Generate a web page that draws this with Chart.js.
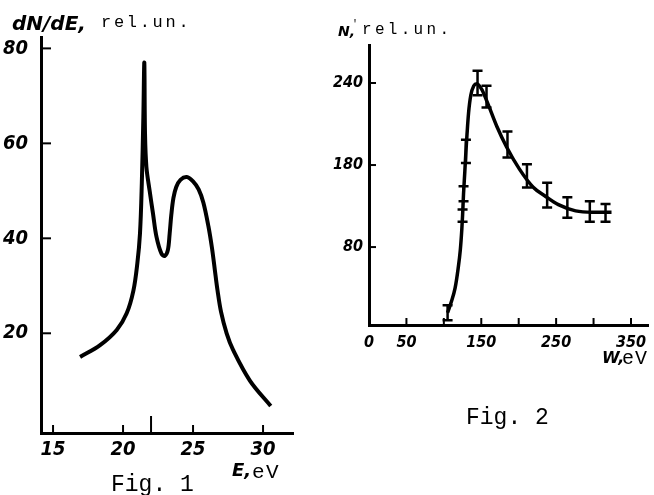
<!DOCTYPE html>
<html>
<head>
<meta charset="utf-8">
<script src="https://cdn.jsdelivr.net/npm/chart.js@4.4.1/dist/chart.umd.min.js"></script>
<style>
  body { margin: 0; background: #fff; width: 654px; height: 495px; position: relative; overflow: hidden; }
  canvas { position: absolute; top: 0; }
  .t { position: absolute; white-space: nowrap; color: #000; line-height: 1; }
  .bi { font-family: 'DejaVu Sans', sans-serif; font-weight: bold; font-style: italic; }
  .mono { font-family: 'Liberation Mono', 'DejaVu Sans Mono', monospace; }
</style>
</head>
<body>
<canvas id="fig1" width="330" height="495" style="left:0"></canvas>
<canvas id="fig2" width="324" height="495" style="left:330px"></canvas>

<div class="t bi" style="left:12px;top:13px;font-size:20px">dN/dE,</div>
<div class="t mono" style="left:101px;top:14px;font-size:17px;letter-spacing:2.7px">rel.un.</div>
<div class="t bi" style="left:232px;top:461px;font-size:18px">E,</div>
<div class="t mono" style="left:252px;top:462px;font-size:21px;letter-spacing:1.5px">eV</div>
<div class="t mono" style="left:111px;top:474px;font-size:23px">Fig. 1</div>

<div class="t bi" style="left:338px;top:24px;font-size:14px">N,</div>
<div class="t mono" style="left:352px;top:20px;font-size:10px">'</div>
<div class="t mono" style="left:362px;top:22px;font-size:16px;letter-spacing:3.3px">rel.un.</div>
<div class="t bi" style="left:602px;top:350px;font-size:16px">W,</div>
<div class="t mono" style="left:622px;top:349px;font-size:20px;letter-spacing:1px">eV</div>
<div class="t mono" style="left:466px;top:407px;font-size:23px">Fig. 2</div>

<script>
// Fig. 1 : dN/dE spectrum
var energy = [16.93, 18.36, 19.55, 20.26, 20.74, 21.02, 21.21, 21.34, 21.45, 21.52, 21.57, 21.67, 21.9, 22.14, 22.39, 22.74, 22.98, 23.2, 23.33, 23.45, 23.6, 23.8, 24.1, 24.55, 25.0, 25.4, 25.74, 26.1, 26.35, 26.55, 26.75, 27.0, 27.4, 27.86, 29.07, 30.55];
var dNdE = [15, 17.5, 20.7, 24.2, 29, 34.7, 41, 51.5, 65.5, 77, 62, 55, 50, 45.2, 40.3, 36.8, 36.3, 37.5, 41, 45, 48.5, 50.8, 52.3, 52.9, 52, 50.3, 47.5, 42.5, 38, 33.5, 29, 24.5, 20, 16.5, 10, 4.7];
var xTicks1 = [15, 20, 22, 25, 30];
var xLabels1 = ['15', '20', '', '25', '30'];
var yTicks1 = [20, 40, 60, 80];
var yLabels1 = ['20', '40', '60', '80'];

// Fig. 2 : N versus W, with error bars
var wCurve = [105, 110, 115, 119, 122, 124, 125, 126.3, 128, 129.5, 131, 133, 136, 140, 144, 151, 158, 171, 184, 201, 219, 236, 253, 276, 298, 324];
var nCurve = [72, 80, 90, 104, 118, 133, 143, 159, 175, 190, 203, 218, 231, 238, 239.5, 235, 226, 208, 193, 177, 164, 157, 151, 146.5, 145.5, 145.5];
var wPoints = [105, 125, 126.3, 129.5, 145, 157, 185, 211, 238, 265, 295, 316];
var nPoints = [72, 143, 159, 190, 240, 230, 195, 172, 158, 149, 146, 145];
var nErr = [5.5, 4.5, 5.5, 8.5, 9, 8, 9.5, 8.5, 9, 7.5, 7.5, 6.5];
var xTicks2 = [0, 50, 100, 150, 200, 250, 300, 350];
var xLabels2 = ['0', '50', '', '150', '', '250', '', '350'];
var yTicks2 = [120, 180, 240];
var yLabels2 = ['80', '180', '240'];

function zip(xs, ys) {
  var out = [];
  for (var i = 0; i < xs.length; i++) out.push({ x: xs[i], y: ys[i] });
  return out;
}

function setTicks(list) {
  return function (scale) {
    scale.ticks = list.map(function (v) { return { value: v }; });
  };
}

// short tick marks drawn inside the plot, from the scales' own ticks
var inwardTicks = {
  id: 'inwardTicks',
  afterDatasetsDraw: function (chart, args, opts) {
    var ctx = chart.ctx, area = chart.chartArea;
    var xs = chart.scales.x, ys = chart.scales.y;
    ctx.save();
    ctx.strokeStyle = '#000';
    ctx.lineWidth = opts.width;
    xs.ticks.forEach(function (t) {
      var px = xs.getPixelForValue(t.value);
      var len = (opts.longX || []).indexOf(t.value) >= 0 ? opts.longLen : opts.lenX;
      ctx.beginPath();
      ctx.moveTo(px, area.bottom);
      ctx.lineTo(px, area.bottom - len);
      ctx.stroke();
    });
    ys.ticks.forEach(function (t) {
      var py = ys.getPixelForValue(t.value);
      ctx.beginPath();
      ctx.moveTo(area.left, py);
      ctx.lineTo(area.left + opts.lenY, py);
      ctx.stroke();
    });
    ctx.restore();
  }
};

var errorBars = {
  id: 'errorBars',
  afterDatasetsDraw: function (chart, args, opts) {
    if (!opts.on) return;
    var ctx = chart.ctx;
    var xs = chart.scales.x, ys = chart.scales.y;
    ctx.save();
    ctx.strokeStyle = '#000';
    ctx.lineWidth = 2.5;
    for (var i = 0; i < wPoints.length; i++) {
      var px = xs.getPixelForValue(wPoints[i]);
      var top = ys.getPixelForValue(nPoints[i] + nErr[i]);
      var bot = ys.getPixelForValue(nPoints[i] - nErr[i]);
      ctx.beginPath();
      ctx.moveTo(px, top); ctx.lineTo(px, bot);
      ctx.moveTo(px - 5, top); ctx.lineTo(px + 5, top);
      ctx.moveTo(px - 5, bot); ctx.lineTo(px + 5, bot);
      ctx.stroke();
    }
    ctx.restore();
  }
};

var tickFamily = "'DejaVu Sans Condensed', 'Liberation Sans Narrow', 'DejaVu Sans', sans-serif";

function axis(min, max, ticks, labels, size, pad, fitFn) {
  return {
    type: 'linear',
    min: min,
    max: max,
    afterBuildTicks: setTicks(ticks),
    afterFit: fitFn,
    grid: { display: false, drawTicks: false },
    border: { display: true, width: 3, color: '#000' },
    ticks: {
      padding: pad,
      color: '#000',
      autoSkip: false,
      maxRotation: 0,
      font: { family: tickFamily, size: size, style: 'italic', weight: 'bold' },
      callback: function (v, i) { return labels[i]; }
    }
  };
}

new Chart(document.getElementById('fig1'), {
  type: 'line',
  data: {
    datasets: [{
      data: zip(energy, dNdE),
      borderColor: '#000',
      borderWidth: 4,
      pointRadius: 0,
      tension: 0.35,
      fill: false
    }]
  },
  plugins: [inwardTicks, errorBars],
  options: {
    responsive: false,
    animation: false,
    layout: { padding: { top: 37, right: 37, left: 0, bottom: 0 } },
    plugins: {
      legend: { display: false },
      tooltip: { enabled: false },
      inwardTicks: { width: 2, lenX: 8, lenY: 10, longX: [22], longLen: 17 },
      errorBars: { on: false }
    },
    scales: {
      x: axis(14.14, 32.14, xTicks1, xLabels1, 20, 5, function (s) { s.height = 62; }),
      y: axis(-1, 82.4, yTicks1, yLabels1, 20, 13, function (s) { s.width = 41; })
    }
  }
});

new Chart(document.getElementById('fig2'), {
  type: 'line',
  data: {
    datasets: [{
      data: zip(wCurve, nCurve),
      borderColor: '#000',
      borderWidth: 3.5,
      pointRadius: 0,
      cubicInterpolationMode: 'monotone',
      fill: false
    }, {
      data: zip(wPoints, nPoints),
      showLine: false,
      pointRadius: 0
    }]
  },
  plugins: [inwardTicks, errorBars],
  options: {
    responsive: false,
    animation: false,
    layout: { padding: { top: 45, right: 0, left: 0, bottom: 0 } },
    plugins: {
      legend: { display: false },
      tooltip: { enabled: false },
      inwardTicks: { width: 2, lenX: 7, lenY: 7 },
      errorBars: { on: true }
    },
    scales: {
      x: axis(0, 373, xTicks2, xLabels2, 16, 8, function (s) { s.height = 170; }),
      y: axis(63, 267.8, yTicks2, yLabels2, 16, 6, function (s) { s.width = 39; })
    }
  }
});
</script>
</body>
</html>
